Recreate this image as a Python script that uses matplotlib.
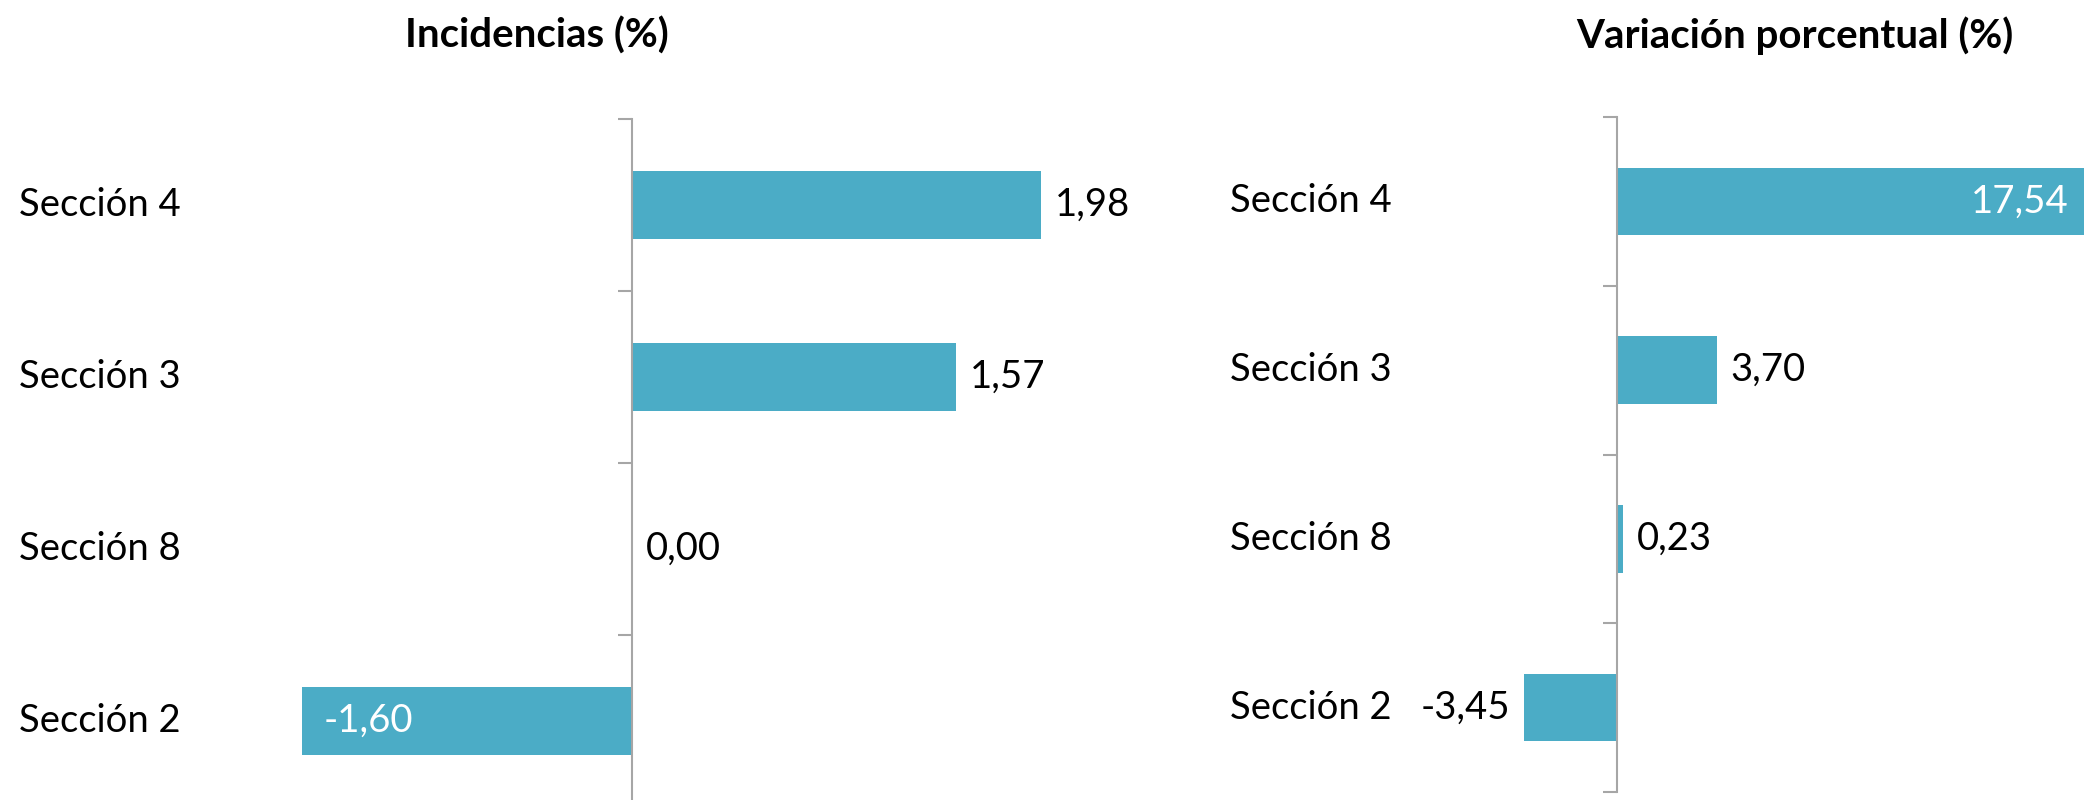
import matplotlib
matplotlib.use("Agg")
import matplotlib.pyplot as plt
from matplotlib.transforms import blended_transform_factory

plt.rcParams['font.family'] = ['Lato', 'DejaVu Sans']

categories = ["Sección 4", "Sección 3", "Sección 8", "Sección 2"]
incidencias = [1.98, 1.57, 0.00, -1.60]
variacion = [17.54, 3.70, 0.23, -3.45]
inc_inside = [False, False, False, True]
var_inside = [True, False, False, False]

BAR = "#4BACC6"
AXC = "#A6A6A6"
FS = 27.5
VFS = 27.5
TFS = 29

fig = plt.figure(figsize=(20.84, 8), dpi=100)
W, H = 2084, 800


def panel(rect, values, inside, xlim, title, title_x, label_x):
    ax = fig.add_axes(rect)
    ys = list(range(len(categories) - 1, -1, -1))
    ax.barh(ys, values, height=0.4, color=BAR, zorder=2)
    ax.set_xlim(*xlim)
    ax.set_ylim(-0.5, len(categories) - 0.5)
    for s in ["top", "right", "bottom"]:
        ax.spines[s].set_visible(False)
    ax.spines["left"].set_position(("data", 0))
    ax.spines["left"].set_color(AXC)
    ax.spines["left"].set_linewidth(1.5)
    ax.spines["left"].set_zorder(3)
    ax.set_xticks([])
    ax.set_yticks([])
    ax.set_yticks([y - 0.5 for y in range(len(categories) + 1)], minor=True)
    ax.tick_params(axis="y", which="minor", length=10, width=1.5, color=AXC,
                   direction="out", labelleft=False)
    ax.patch.set_alpha(0)
    tr = blended_transform_factory(fig.transFigure, ax.transData)
    for y, cat in zip(ys, categories):
        ax.text(label_x, y, cat, transform=tr, ha="left", va="center",
                fontsize=FS, color="black")
    for y, v, ins in zip(ys, values, inside):
        txt = f"{v:.2f}".replace(".", ",")
        sign = 1 if v >= 0 else -1
        if ins:
            off = -sign * 16
            ha = "right" if v >= 0 else "left"
            col = "white"
        else:
            off = sign * 10
            ha = "left" if v >= 0 else "right"
            col = "black"
        ax.annotate(txt, (v, y), xytext=(off, 0), textcoords="offset points",
                    ha=ha, va="center", fontsize=VFS, color=col, zorder=4)
    fig.text(title_x, 1 - 36 / H, title, ha="center", va="center",
             fontsize=TFS, fontweight="bold")
    return ax


panel([219 / W, 1 - 807 / H, 929.5 / W, (807 - 119) / H], incidencias,
      inc_inside, (-2, 2.5), "Incidencias (%)", 537 / W, 19 / W)
panel([1401 / W, 1 - 792 / H, 702 / W, (792 - 117) / H], variacion,
      var_inside, (-8, 18), "Variación porcentual (%)", 1795 / W, 1230 / W)

fig.savefig("out.png", dpi=100)
